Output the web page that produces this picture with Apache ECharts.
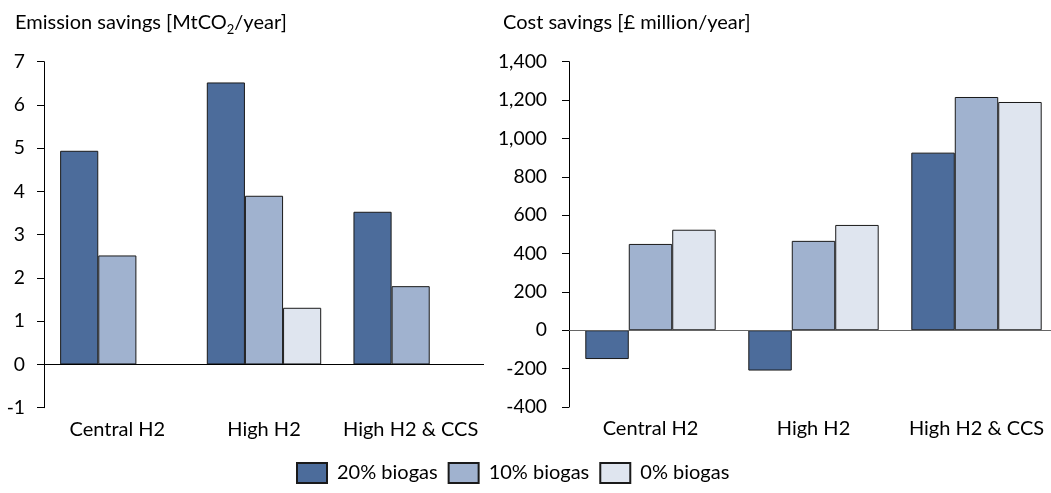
<!DOCTYPE html>
<html>
<head>
<meta charset="utf-8">
<script src="https://cdn.jsdelivr.net/npm/echarts@6/dist/echarts.min.js"></script>
<style>
html,body{margin:0;padding:0;background:#fff;overflow:hidden;}
#main{width:1060px;height:493px;}
</style>
</head>
<body>
<div id="main"></div>
<script>
var categories = ['Central H2', 'High H2', 'High H2 & CCS'];
var seriesNames = ['20% biogas', '10% biogas', '0% biogas'];
var emission20 = [4.94, 6.52, 3.53];
var emission10 = [2.52, 3.90, 1.81];
var emission0 = [null, 1.31, null];
var cost20 = [-150, -210, 926];
var cost10 = [450, 466, 1216];
var cost0 = [524, 549, 1190];
var emissionTicks = [-1, 7, 1];
var costTicks = [-400, 1400, 200];

var colors = ['#4c6c9b', '#a0b2cf', '#dfe5ef'];
var FONT = 'Lato, "Open Sans", sans-serif';
var chart = echarts.init(document.getElementById('main'));

function bar(name, data, idx, color, cat) {
  return {
    name: name, type: 'bar', data: data,
    xAxisIndex: idx, yAxisIndex: idx,
    barGap: '0%', barCategoryGap: cat,
    itemStyle: {color: color, borderColor: '#1a1a1a', borderWidth: 1},
    emphasis: {disabled: true},
    animation: false
  };
}
function zeroLine(color) {
  return {
    silent: true, symbol: 'none', label: {show: false},
    lineStyle: {color: color, width: 1, type: 'solid'},
    data: [{yAxis: 0}]
  };
}
function yAxis(idx, t, margin, fmt) {
  return {
    type: 'value', gridIndex: idx, min: t[0], max: t[1], interval: t[2],
    axisLine: {show: true, lineStyle: {color: '#000', width: 1}},
    axisTick: {show: true, length: 7, lineStyle: {color: '#000'}},
    splitLine: {show: false},
    axisLabel: {color: '#000', fontSize: 19.3, fontFamily: FONT, margin: margin, formatter: fmt}
  };
}
function xAxis(idx) {
  return {
    type: 'category', gridIndex: idx, data: categories,
    axisLine: {show: false, onZero: false}, axisTick: {show: false},
    axisLabel: {color: '#000', fontSize: 20, fontFamily: FONT, margin: 12, interval: 0}
  };
}

var s = [
  bar(seriesNames[0], emission20, 0, colors[0], '22%'),
  bar(seriesNames[1], emission10, 0, colors[1], '22%'),
  bar(seriesNames[2], emission0, 0, colors[2], '22%'),
  bar(seriesNames[0], cost20, 1, colors[0], '20%'),
  bar(seriesNames[1], cost10, 1, colors[1], '20%'),
  bar(seriesNames[2], cost0, 1, colors[2], '20%')
];
s[0].markLine = zeroLine('#000');
s[3].markLine = zeroLine('#666');

chart.setOption({
  animation: false,
  title: [
    {text: '{m|Emission savings [MtCO}{s|2}{m|/year]}', left: 10, top: 4,
     textStyle: {fontWeight: 'normal', rich: {
       m: {fontSize: 20, fontWeight: 'normal', fontFamily: FONT, color: '#000', lineHeight: 27, verticalAlign: 'middle'},
       s: {fontSize: 13, fontWeight: 'normal', fontFamily: FONT, color: '#000', lineHeight: 15, verticalAlign: 'bottom'}
     }}},
    {text: 'Cost savings [£ million/year]', left: 498, top: 4,
     textStyle: {fontSize: 20, fontWeight: 'normal', fontFamily: FONT, color: '#000', lineHeight: 27}}
  ],
  grid: [
    {left: 44, top: 61.7, width: 440, height: 346},
    {left: 569, top: 61.7, width: 489, height: 345.3}
  ],
  legend: {
    left: 296, top: 462, padding: 0, itemWidth: 30, itemHeight: 20, itemGap: 10,
    icon: 'rect',
    data: seriesNames,
    textStyle: {fontSize: 20, fontFamily: FONT, color: '#000', padding: [0, 0, 0, 5]}
  },
  xAxis: [xAxis(0), xAxis(1)],
  yAxis: [
    yAxis(0, emissionTicks, 19, function(v){return String(v);}),
    yAxis(1, costTicks, 22, function(v){return v.toLocaleString('en-US');})
  ],
  series: s
});
</script>
</body>
</html>
